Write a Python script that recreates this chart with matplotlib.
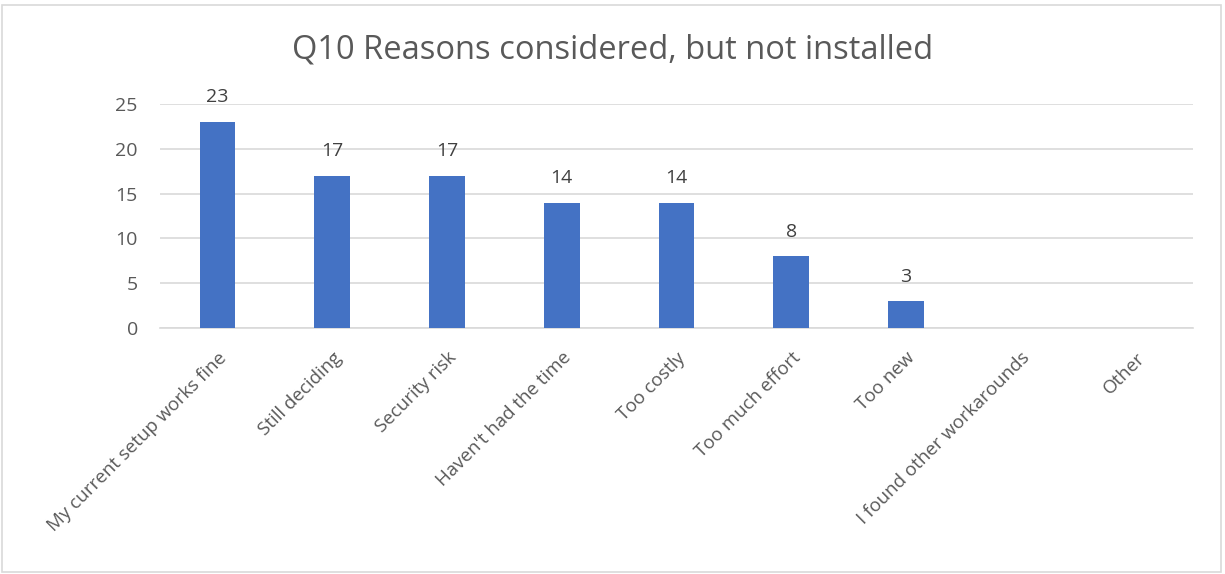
import matplotlib.pyplot as plt

plt.rcParams["font.family"] = ["Open Sans", "DejaVu Sans"]

reasons = [
    "My current setup works fine",
    "Still deciding",
    "Security risk",
    "Haven't had the time",
    "Too costly",
    "Too much effort",
    "Too new",
    "I found other workarounds",
    "Other",
]
counts = [23, 17, 17, 14, 14, 8, 3, 0, 0]
y_ticks = [0, 5, 10, 15, 20, 25]

BAR = "#4472C4"
TEXT = "#595959"
GRID = "#D9D9D9"

fig = plt.figure(figsize=(12.25, 5.74), dpi=100)
ax = fig.add_axes([0.1306, 0.4286, 0.8433, 0.3902])

x = list(range(len(reasons)))
ax.bar(x, counts, width=0.31, color=BAR, zorder=3)
for xi, c in zip(x, counts):
    if c > 0:
        ax.annotate(str(c), (xi, c), xytext=(0, 14), textcoords="offset points",
                    ha="center", va="baseline", fontsize=14, color="#404040")

ax.set_xlim(-0.5, len(reasons) - 0.5)
ax.set_ylim(0, 25)
ax.set_yticks(y_ticks)
ax.yaxis.grid(True, color=GRID, linewidth=1.2, zorder=0)
ax.set_xticks(x)
ax.set_xticklabels(reasons, rotation=45, ha="right", va="top",
                   rotation_mode="anchor", fontsize=13.5, color=TEXT)
ax.tick_params(axis="y", labelsize=14, labelcolor=TEXT, length=0, pad=16)
ax.tick_params(axis="x", length=0, pad=15)
for side in ("top", "right", "left"):
    ax.spines[side].set_visible(False)
ax.spines["bottom"].set_color(GRID)
ax.spines["bottom"].set_linewidth(1.2)

fig.text(0.5, 1 - 50 / 574, "Q10 Reasons considered, but not installed",
         ha="center", va="center", fontsize=23.5, color=TEXT)

# thin frame round the whole chart area
fig.patches.append(plt.Rectangle((0.002, 0.003), 0.995, 0.988, transform=fig.transFigure,
                                 fill=False, edgecolor="#D9D9D9", linewidth=1.2))

fig.savefig("out.png", dpi=100)
